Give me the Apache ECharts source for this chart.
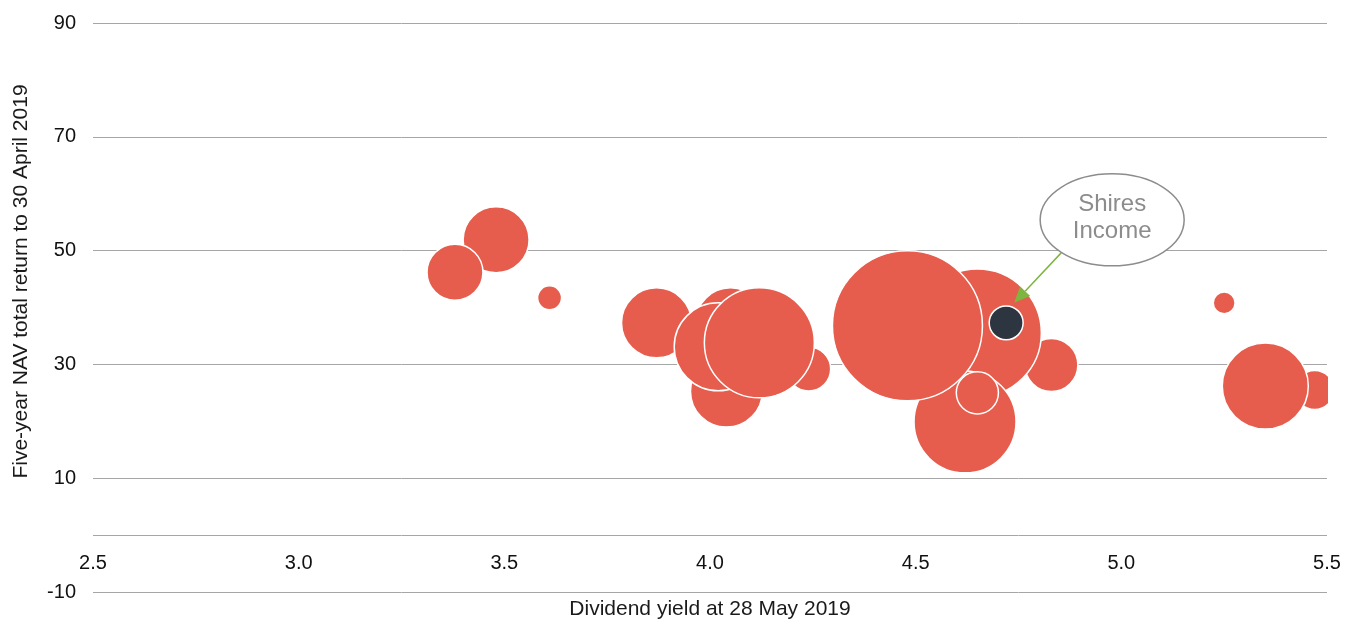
<!DOCTYPE html>
<html>
<head>
<meta charset="utf-8">
<script src="https://cdn.jsdelivr.net/npm/echarts@6/dist/echarts.min.js"></script>
<style>
  html, body { margin: 0; padding: 0; background: #fff; }
  #chart { width: 1356px; height: 622px; }
</style>
</head>
<body>
<div id="chart"></div>
<script>
// peer group, in drawing order (later ones sit on top)
const dividendYield = [3.48, 3.38, 3.61, 3.87, 4.05, 4.04, 4.02, 4.24, 4.12, 4.83, 4.65, 4.62, 4.48, 4.65, 5.25, 5.47, 5.35]
const navReturn = [51.9, 46.2, 41.7, 37.3, 37.3, 25.3, 33.1, 29.2, 33.8, 29.9, 35.5, 19.9, 36.8, 25.0, 40.8, 25.5, 26.2]
const marketCap = [174, 125, 23, 196, 196, 207, 310, 77, 484, 112, 655, 416, 900, 71, 19, 61, 296]

// Shires Income
const shiresYield = 4.72
const shiresReturn = 37.3
const shiresCap = 46

const xTicks = { min : 2.5, max : 5.5, interval : 0.5 }
const yTicks = { min : -10, max : 90, interval : 20 }

const FONT = '"Liberation Sans", Arial, Helvetica, sans-serif'
const GRID_GREY = '#a6a6a6'
const bubbleSize = v => 5 * Math.sqrt( v[2] )

const peers = dividendYield.map( ( x, i ) => [x, navReturn[i], marketCap[i]] )

const chart = echarts.init( document.getElementById( 'chart' ) )

chart.setOption( {
  animation : false,
  textStyle : { fontFamily : FONT },
  grid : {
    left : 93,
    right : 29,
    top : 23,
    bottom : 30,
    containLabel : false,
    outerBoundsMode : 'none'
  },
  xAxis : {
    type : 'value',
    min : xTicks.min,
    max : xTicks.max,
    interval : xTicks.interval,
    name : 'Dividend yield at 28 May 2019',
    nameLocation : 'middle',
    nameGap : 7,
    nameMoveOverlap : false,
    nameTextStyle : { fontSize : 21, color : '#1a1a1a', fontFamily : FONT },
    axisLine : { show : false, onZero : false },
    axisTick : { show : false },
    axisLabel : {
      inside : true,
      fontSize : 20,
      color : '#111',
      margin : 19,
      fontFamily : FONT,
      formatter : v => v.toFixed( 1 )
    },
    splitLine : { show : false }
  },
  yAxis : {
    type : 'value',
    min : yTicks.min,
    max : yTicks.max,
    interval : yTicks.interval,
    name : 'Five-year NAV total return to 30 April 2019',
    nameLocation : 'middle',
    nameGap : 61,
    nameTextStyle : {
      fontSize : 21,
      color : '#1a1a1a',
      fontFamily : FONT,
      padding : [0, 0, 0, 52]
    },
    axisLine : { show : false },
    axisTick : { show : false },
    axisLabel : { fontSize : 20, color : '#111', margin : 17, fontFamily : FONT },
    splitLine : { show : true, lineStyle : { color : GRID_GREY, width : 1 } }
  },
  series : [
    {
      name : 'Peers',
      type : 'scatter',
      data : peers,
      symbolSize : bubbleSize,
      itemStyle : {
        color : '#e65d4d',
        opacity : 1,
        borderColor : '#ffffff',
        borderWidth : 1.5
      },
      emphasis : { disabled : true },
      // zero line
      markLine : {
        silent : true,
        symbol : 'none',
        label : { show : false },
        lineStyle : { color : GRID_GREY, width : 1, type : 'solid' },
        data : [{ yAxis : 0 }]
      }
    },
    {
      name : 'Shires Income',
      type : 'scatter',
      data : [[shiresYield, shiresReturn, shiresCap]],
      symbolSize : bubbleSize,
      z : 3,
      itemStyle : {
        color : '#2c3540',
        opacity : 1,
        borderColor : '#ffffff',
        borderWidth : 1.5
      },
      emphasis : { disabled : true }
    }
  ]
} )

// call-out bubble + arrow, placed relative to the Shires point
const p = chart.convertToPixel( { seriesIndex : 1 }, [shiresYield, shiresReturn] )
const tip = [p[0] + 8, p[1] - 20]
const tail = [p[0] + 55, p[1] - 70]
const ang = Math.atan2( tip[1] - tail[1], tip[0] - tail[0] )
const headLen = 16
const headW = 7
const base = [tip[0] - headLen * Math.cos( ang ), tip[1] - headLen * Math.sin( ang )]
const nx = -Math.sin( ang )
const ny = Math.cos( ang )
const plotRect = chart.convertToPixel( { gridIndex : 0 }, [xTicks.max, yTicks.max] )

chart.setOption( {
  graphic : [
    {
      // trims bubbles that spill past the right edge of the plot
      type : 'rect',
      left : plotRect[0] + 1,
      top : 0,
      shape : { width : 40, height : 520 },
      style : { fill : '#fff' },
      z : 50
    },
    {
      type : 'line',
      shape : { x1 : tail[0], y1 : tail[1], x2 : base[0], y2 : base[1] },
      style : { stroke : '#7db53f', lineWidth : 1.5 },
      z : 60
    },
    {
      type : 'polygon',
      shape : {
        points : [
          tip,
          [base[0] + nx * headW, base[1] + ny * headW],
          [base[0] - nx * headW, base[1] - ny * headW]
        ]
      },
      style : { fill : '#7db53f' },
      z : 60
    },
    {
      type : 'ellipse',
      shape : { cx : p[0] + 106, cy : p[1] - 103, rx : 72, ry : 46 },
      style : { fill : '#fff', stroke : '#8c8c8c', lineWidth : 1.5 },
      z : 61
    },
    {
      type : 'text',
      x : p[0] + 106,
      y : p[1] - 105,
      style : {
        text : 'Shires\nIncome',
        fill : '#8c8c8c',
        font : '24px ' + FONT,
        align : 'center',
        verticalAlign : 'middle',
        lineHeight : 27
      },
      z : 62
    }
  ]
} )
</script>
</body>
</html>
